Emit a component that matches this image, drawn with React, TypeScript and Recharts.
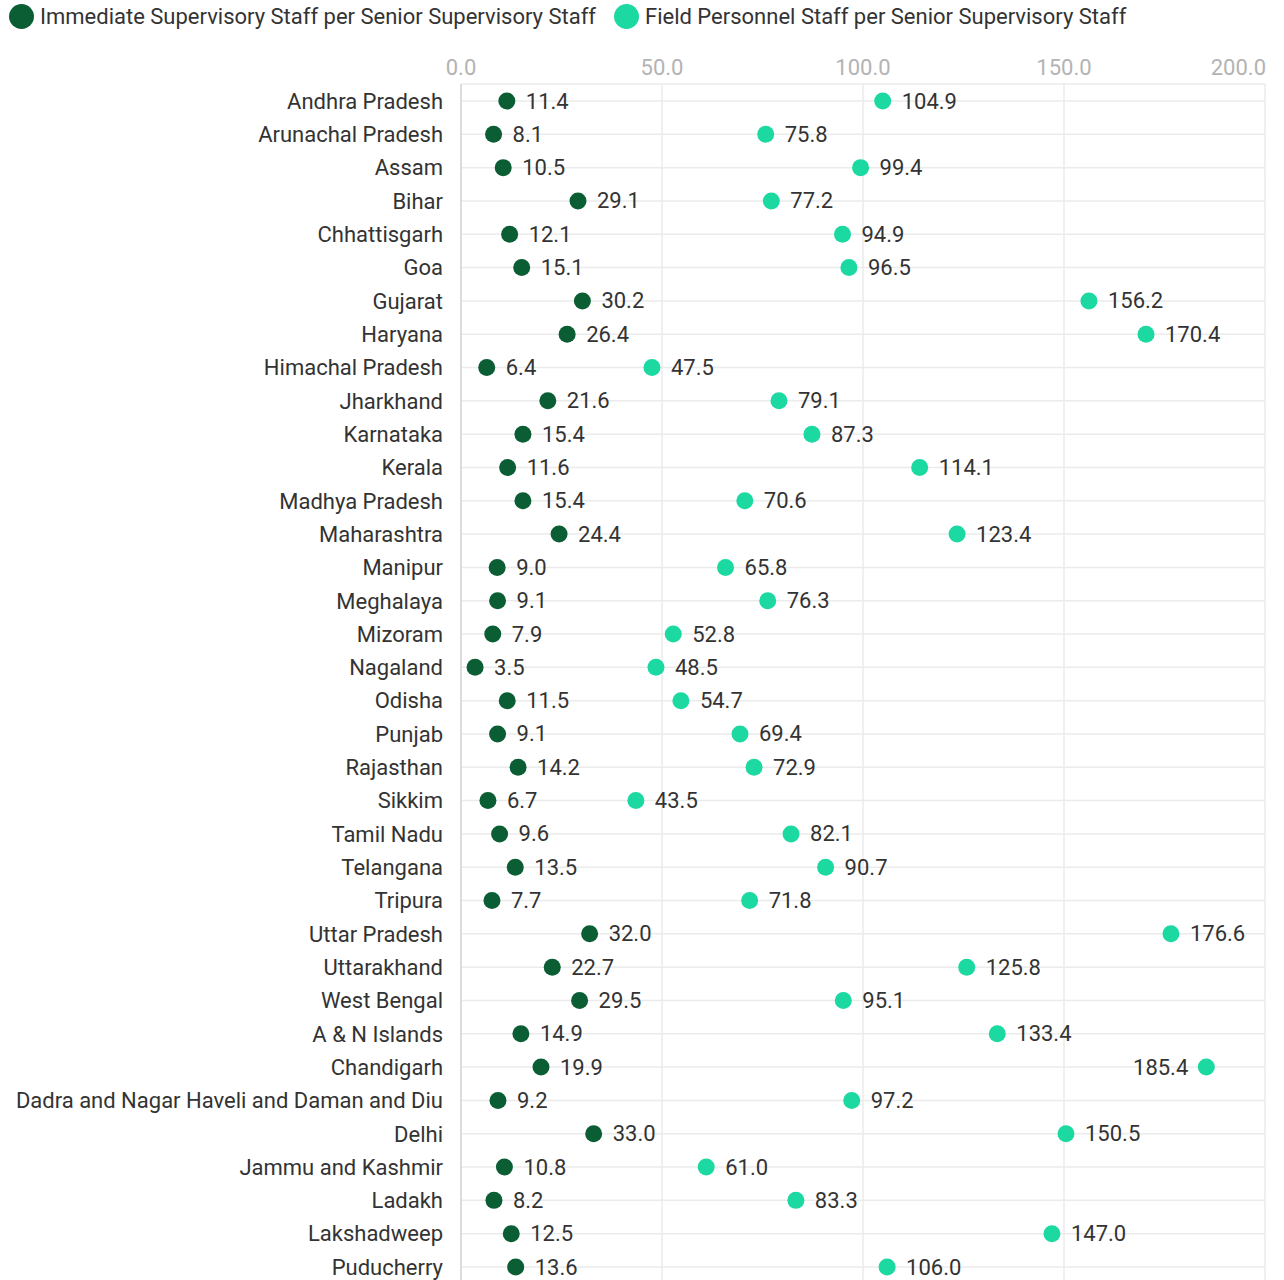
import { ComposedChart, Line, XAxis, YAxis, CartesianGrid, LabelList } from 'recharts';

const states = [
  'Andhra Pradesh', 'Arunachal Pradesh', 'Assam', 'Bihar', 'Chhattisgarh', 'Goa', 'Gujarat',
  'Haryana', 'Himachal Pradesh', 'Jharkhand', 'Karnataka', 'Kerala', 'Madhya Pradesh',
  'Maharashtra', 'Manipur', 'Meghalaya', 'Mizoram', 'Nagaland', 'Odisha', 'Punjab',
  'Rajasthan', 'Sikkim', 'Tamil Nadu', 'Telangana', 'Tripura', 'Uttar Pradesh', 'Uttarakhand',
  'West Bengal', 'A & N Islands', 'Chandigarh', 'Dadra and Nagar Haveli and Daman and Diu',
  'Delhi', 'Jammu and Kashmir', 'Ladakh', 'Lakshadweep', 'Puducherry',
];

const immediate = [
  11.4, 8.1, 10.5, 29.1, 12.1, 15.1, 30.2, 26.4, 6.4, 21.6, 15.4, 11.6, 15.4, 24.4, 9.0, 9.1,
  7.9, 3.5, 11.5, 9.1, 14.2, 6.7, 9.6, 13.5, 7.7, 32.0, 22.7, 29.5, 14.9, 19.9, 9.2, 33.0,
  10.8, 8.2, 12.5, 13.6,
];

const field = [
  104.9, 75.8, 99.4, 77.2, 94.9, 96.5, 156.2, 170.4, 47.5, 79.1, 87.3, 114.1, 70.6, 123.4,
  65.8, 76.3, 52.8, 48.5, 54.7, 69.4, 72.9, 43.5, 82.1, 90.7, 71.8, 176.6, 125.8, 95.1, 133.4,
  185.4, 97.2, 150.5, 61.0, 83.3, 147.0, 106.0,
];

const xTicks = [0, 50, 100, 150, 200];

const DARK = '#0b5e34';
const TEAL = '#1bd9a1';
const FONT = 'Roboto, "Noto Sans", sans-serif';
const FS = 22;

const data = states.map((name, i) => ({ name, immediate: immediate[i], field: field[i] }));

function ValueLabel(props: any) {
  const { x, y, value } = props;
  // labels near the right edge go on the left of the dot
  const left = value > 180;
  return (
    <text
      x={left ? x - 18 : x + 19}
      y={y}
      textAnchor={left ? 'end' : 'start'}
      dominantBaseline="central"
      fontSize={FS}
      fill="#333"
      fontFamily={FONT}
    >
      {value.toFixed(1)}
    </text>
  );
}

function TopTick(props: any) {
  const { x, payload } = props;
  const last = payload.value === 200;
  return (
    <text
      x={last ? x + 1 : x}
      y={67}
      textAnchor={last ? 'end' : 'middle'}
      dominantBaseline="central"
      fontSize={FS}
      fill="#b3b3b3"
      fontFamily={FONT}
    >
      {payload.value.toFixed(1)}
    </text>
  );
}

function LegendItem({ color, label }: { color: string; label: string }) {
  return (
    <div style={{ display: 'flex', alignItems: 'center', marginRight: 18 }}>
      <span style={{ width: 25, height: 25, borderRadius: '50%', background: color, marginRight: 6 }} />
      <span style={{ fontSize: FS, color: '#333' }}>{label}</span>
    </div>
  );
}

export default function App() {
  return (
    <div style={{ position: 'absolute', left: 0, top: 0, width: 1284, height: 1300, fontFamily: FONT, background: '#fff' }}>
      <div style={{ position: 'absolute', left: 9, top: 4, display: 'flex' }}>
        <LegendItem color={DARK} label="Immediate Supervisory Staff per Senior Supervisory Staff" />
        <LegendItem color={TEAL} label="Field Personnel Staff per Senior Supervisory Staff" />
      </div>
      <ComposedChart
        layout="vertical"
        width={1284}
        height={1300}
        data={data}
        margin={{ top: 50, right: 19, bottom: 16, left: 0 }}
      >
        <CartesianGrid stroke="#ebebeb" strokeWidth={1.5} />
        <XAxis
          type="number"
          orientation="top"
          domain={[0, 200]}
          ticks={xTicks}
          height={34}
          axisLine={false}
          tickLine={false}
          tick={TopTick}
        />
        <YAxis
          type="category"
          dataKey="name"
          width={461}
          interval={0}
          padding={{ top: 17, bottom: 17 }}
          tickLine={false}
          axisLine={{ stroke: '#d6d6d6', strokeWidth: 1.5 }}
          tickMargin={12}
          tick={{ fontSize: FS, fill: '#333', fontFamily: FONT }}
        />
        <Line
          dataKey="immediate"
          stroke="none"
          isAnimationActive={false}
          dot={{ r: 8.5, fill: DARK, stroke: 'none' }}
          activeDot={false}
        >
          <LabelList dataKey="immediate" content={ValueLabel} />
        </Line>
        <Line
          dataKey="field"
          stroke="none"
          isAnimationActive={false}
          dot={{ r: 8.5, fill: TEAL, stroke: 'none' }}
          activeDot={false}
        >
          <LabelList dataKey="field" content={ValueLabel} />
        </Line>
      </ComposedChart>
    </div>
  );
}
